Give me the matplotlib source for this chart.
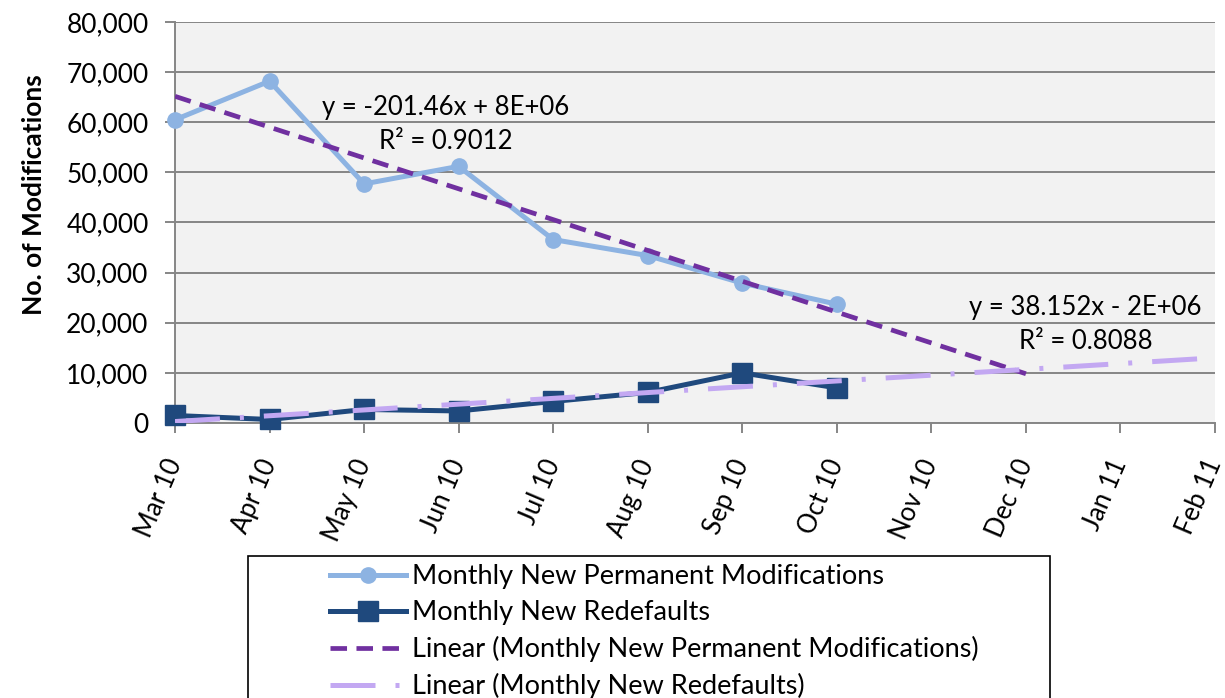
import numpy as np
import matplotlib
matplotlib.use('Agg')
import matplotlib.pyplot as plt
from matplotlib.ticker import FuncFormatter, MultipleLocator
from matplotlib.patches import Rectangle

plt.rcParams['font.family'] = ['Lato', 'DejaVu Sans']

months = ['Mar 10', 'Apr 10', 'May 10', 'Jun 10', 'Jul 10', 'Aug 10',
          'Sep 10', 'Oct 10', 'Nov 10', 'Dec 10', 'Jan 11', 'Feb 11']
perm_mods = [60500, 68200, 47700, 51200, 36600, 33400, 27900, 23700]
redefaults = [1500, 700, 2700, 2400, 4300, 6100, 10000, 7000]

perm_label = 'Monthly New Permanent Modifications'
redef_label = 'Monthly New Redefaults'

x_all = np.arange(len(months))
x_obs = x_all[:len(perm_mods)]

# linear trends (Excel style), extended forward
p_perm = np.polyfit(x_obs, perm_mods, 1)
p_red = np.polyfit(x_obs, redefaults, 1)
x_perm_tr = np.array([0, 9])
x_red_tr = np.array([0, 11])

fig = plt.figure(figsize=(12.25, 6.98), dpi=100)
ax = fig.add_axes([175/1225, 1-423/698, (1215-175)/1225, (423-22)/698])
ax.set_facecolor('#F2F2F2')

grey = '#868686'
ax.yaxis.grid(True, color=grey, lw=1.4)
ax.set_axisbelow(True)

ax.plot(x_obs, perm_mods, color='#8DB3E2', lw=3.6, marker='o', ms=11,
        clip_on=False, zorder=3, label=perm_label)
ax.plot(x_obs, redefaults, color='#1F497D', lw=3.6, marker='s', ms=14,
        clip_on=False, zorder=3, label=redef_label)
ax.plot(x_perm_tr, np.polyval(p_perm, x_perm_tr), color='#7030A0', lw=3.4,
        dashes=(3.5, 2), zorder=4,
        label='Linear (Monthly New Permanent Modifications)')
ax.plot(x_red_tr, np.polyval(p_red, x_red_tr), color='#C3A8F2', lw=3.6,
        dashes=(9, 4, 0.8, 4), zorder=4,
        label='Linear (Monthly New Redefaults)')

ax.text(2.86, 63000, 'y = -201.46x + 8E+06', ha='center', va='center', fontsize=18.5)
ax.text(2.86, 56100, 'R² = 0.9012', ha='center', va='center', fontsize=18.5)
ax.text(9.63, 23100, 'y = 38.152x - 2E+06', ha='center', va='center', fontsize=18.5)
ax.text(9.63, 16200, 'R² = 0.8088', ha='center', va='center', fontsize=18.5)

ax.set_xlim(0, 11)
ax.set_ylim(0, 80000)
ax.yaxis.set_major_locator(MultipleLocator(10000))
ax.yaxis.set_major_formatter(FuncFormatter(lambda v, p: f'{int(v):,}'))
ax.set_xticks(x_all)
ax.set_xticklabels(months, rotation=67, ha='right', va='center',
                   rotation_mode='anchor')

for s in ['top', 'right']:
    ax.spines[s].set_visible(False)
for s in ['left', 'bottom']:
    ax.spines[s].set_color(grey)
    ax.spines[s].set_linewidth(1.4)
ax.tick_params(axis='y', length=7, width=1.4, color=grey, pad=12, labelsize=19)
ax.tick_params(axis='x', length=7, width=1.4, color=grey, pad=20, labelsize=18.5)

fig.text(34/1225, 1-195/698, 'No. of Modifications', rotation=90, ha='center',
         va='center', fontsize=19, fontweight='bold')

# legend frame drawn separately (runs past the bottom edge)
fig.patches.append(Rectangle((248/1225, -0.05), (1050-248)/1225, 0.05 + (698-556)/698,
                             transform=fig.transFigure, fill=False, ec='black', lw=1.2))
h, l = ax.get_legend_handles_labels()
fig.legend(h, l, loc='upper left', bbox_to_anchor=(325/1225, 1-559/698),
           frameon=False, fontsize=19.5, handlelength=2.8, handletextpad=0.2,
           labelspacing=0.4, borderpad=0.2, borderaxespad=0)

fig.savefig('out.png', dpi=100)
